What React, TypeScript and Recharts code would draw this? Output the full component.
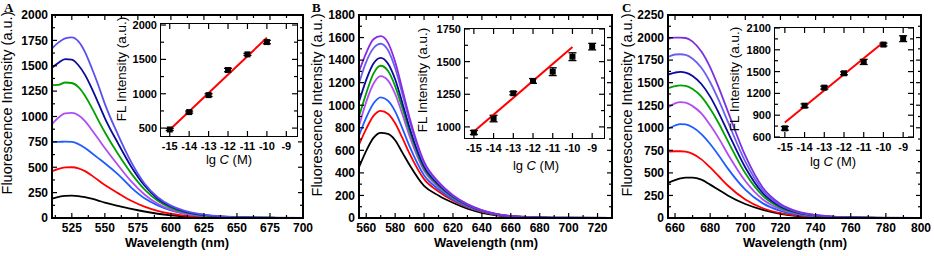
import React from "react";
import { LineChart, Line, XAxis, YAxis, ComposedChart, Scatter, ErrorBar } from "recharts";

const SANS = '"Liberation Sans", Arial, Helvetica, sans-serif';

// ---------- panel A: spectra, blank and lg C = -15 ... -10
const aWave = [510, 515, 520, 525, 530, 535, 540, 545, 550, 560, 570, 580, 590, 600, 610, 625, 640, 660, 680, 700];
const aBlank = [190, 208, 218, 220, 216, 205, 190, 172, 152, 120, 90, 64, 42, 26, 15, 7, 3, 1, 0, 0];
const aM15 = [462, 485, 498, 500, 490, 462, 420, 372, 325, 245, 170, 112, 70, 42, 24, 11, 5, 2, 1, 0];
const aM14 = [750, 750, 752, 750, 728, 690, 640, 590, 540, 430, 300, 195, 125, 76, 43, 19, 8, 3, 1, 0];
const aM13 = [925, 990, 1030, 1035, 1012, 955, 870, 780, 690, 520, 360, 232, 140, 82, 46, 20, 9, 3, 1, 0];
const aM12 = [1310, 1312, 1335, 1330, 1290, 1205, 1090, 965, 845, 630, 440, 282, 170, 100, 57, 26, 11, 4, 2, 1];
const aM11 = [1480, 1530, 1565, 1560, 1505, 1410, 1280, 1135, 985, 735, 505, 320, 190, 114, 66, 30, 13, 5, 2, 1];
const aM10 = [1670, 1730, 1770, 1780, 1740, 1635, 1480, 1310, 1125, 820, 550, 340, 205, 122, 72, 33, 15, 6, 3, 2];
const aColors = ["#000000", "#ff0000", "#1f5cff", "#b04cf2", "#00a000", "#0a0a9c", "#5a50f2"];

const aXMajor = [525, 550, 575, 600, 625, 650, 675, 700];
const aXMinor = [512.5, 537.5, 562.5, 587.5, 612.5, 637.5, 662.5, 687.5];
const aYMajor = [0, 250, 500, 750, 1000, 1250, 1500, 1750, 2000];
const aYMinor = [125, 375, 625, 875, 1125, 1375, 1625, 1875];

// inset A
const aLg = [-15, -14, -13, -12, -11, -10];
const aFL = [480, 733, 980, 1345, 1573, 1752];
const aErr = [15, 15, 20, 25, 15, 25];
const aFitY = [475, 1815];

// ---------- panel B: spectra, blank and lg C = -15 ... -9
const bWave = [555, 560, 565, 570, 575, 580, 585, 590, 600, 610, 620, 630, 640, 650, 660, 680, 700, 730];
const bBlank = [450, 595, 710, 755, 745, 690, 580, 470, 285, 200, 135, 82, 46, 24, 11, 3, 1, 0];
const bM15 = [650, 790, 905, 950, 925, 840, 710, 570, 345, 235, 155, 95, 54, 28, 13, 4, 1, 0];
const bM14 = [730, 890, 1015, 1070, 1040, 945, 795, 635, 380, 255, 165, 101, 58, 30, 14, 4, 1, 0];
const bM13 = [815, 1030, 1190, 1258, 1220, 1100, 920, 725, 420, 275, 178, 108, 62, 32, 15, 4, 1, 0];
const bM12 = [900, 1105, 1280, 1350, 1305, 1170, 975, 770, 440, 288, 185, 112, 64, 33, 16, 5, 1, 0];
const bM11 = [1030, 1225, 1370, 1420, 1370, 1230, 1020, 800, 458, 298, 191, 116, 66, 34, 16, 5, 2, 0];
const bM10 = [1195, 1385, 1505, 1545, 1490, 1330, 1100, 860, 485, 312, 198, 120, 68, 35, 17, 5, 2, 0];
const bM9 = [1298, 1465, 1585, 1612, 1555, 1385, 1140, 890, 500, 320, 203, 123, 70, 36, 17, 6, 2, 0];
const bColors = ["#000000", "#ff0000", "#1f5cff", "#b04cf2", "#00a000", "#0a0a9c", "#6a5ff2", "#8a2be2"];

const bXMajor = [560, 580, 600, 620, 640, 660, 680, 700, 720];
const bXMinor = [570, 590, 610, 630, 650, 670, 690, 710];
const bYMajor = [0, 200, 400, 600, 800, 1000, 1200, 1400, 1600, 1800];
const bYMinor = [100, 300, 500, 700, 900, 1100, 1300, 1500, 1700];

// inset B
const bLg = [-15, -14, -13, -12, -11, -10, -9];
const bFL = [957, 1064, 1258, 1352, 1423, 1538, 1615];
const bErr = [15, 25, 12, 18, 30, 30, 25];
const bFitY = [964, 1612];

// ---------- panel C: spectra, blank and lg C = -15 ... -9
const cWave = [656, 660, 663, 666, 670, 675, 680, 685, 690, 700, 710, 720, 730, 740, 750, 760, 780, 800];
const cBlank = [388, 420, 438, 448, 448, 425, 370, 310, 250, 155, 90, 47, 22, 11, 6, 3, 1, 0];
const cM15 = [735, 740, 740, 735, 710, 650, 560, 460, 360, 205, 108, 54, 26, 12, 6, 3, 1, 0];
const cM14 = [990, 1025, 1040, 1038, 1005, 930, 820, 690, 550, 315, 162, 80, 38, 18, 9, 4, 1, 0];
const cM13 = [1225, 1270, 1285, 1280, 1240, 1160, 1030, 880, 710, 410, 205, 98, 46, 22, 11, 5, 2, 1];
const cM12 = [1440, 1462, 1470, 1465, 1430, 1345, 1210, 1045, 855, 495, 245, 115, 53, 25, 12, 6, 2, 1];
const cM11 = [1590, 1612, 1620, 1612, 1575, 1485, 1345, 1160, 955, 560, 275, 128, 59, 28, 13, 6, 2, 1];
const cM10 = [1785, 1812, 1815, 1808, 1765, 1665, 1505, 1300, 1070, 625, 305, 142, 65, 31, 15, 7, 2, 1];
const cM9 = [1985, 2000, 2000, 1995, 1955, 1845, 1670, 1440, 1185, 690, 335, 156, 71, 34, 16, 8, 3, 1];
const cColors = ["#000000", "#ff0000", "#1f5cff", "#b04cf2", "#00a000", "#0a0a9c", "#6a5ff2", "#7d30e0"];

const cXMajor = [660, 680, 700, 720, 740, 760, 780, 800];
const cXMinor = [670, 690, 710, 730, 750, 770, 790];
const cYMajor = [0, 250, 500, 750, 1000, 1250, 1500, 1750, 2000, 2250];
const cYMinor = [125, 375, 625, 875, 1125, 1375, 1625, 1875, 2125];

// inset C
const cLg = [-15, -14, -13, -12, -11, -10, -9];
const cFL = [719, 1031, 1279, 1477, 1633, 1872, 1953];
const cErr = [25, 25, 20, 20, 35, 20, 40];
const cFitY = [800, 1905];

// shared inset x ticks / fit range
const lgTicks = [-15, -14, -13, -12, -11, -10, -9];
const fitX = [-15, -10];

function toRows(wave: number[], series: number[][]) {
  return wave.map((w, i) => {
    const r: any = { w };
    series.forEach((s, k) => (r["s" + k] = s[i]));
    return r;
  });
}

function toPts(lg: number[], fl: number[], err: number[]) {
  return lg.map((x, i) => ({ x, y: fl[i], e: err[i] }));
}

// tick renderers: ticks point inward (also mirrored on top / right), labels only on majors
const txt = (size: number) => ({ fontSize: size, fontWeight: 700, fontFamily: SANS, fill: "#000" });

const bottomTick = (major: number[], size: number, gap: number, top: number) => (p: any) => {
  const v = p.payload.value;
  const len = major.includes(v) ? 5 : 3;
  return (
    <g>
      <line x1={p.x} x2={p.x} y1={p.y} y2={p.y - len} stroke="#000" strokeWidth={1.2} />
      <line x1={p.x} x2={p.x} y1={top} y2={top + len} stroke="#000" strokeWidth={1.2} />
      {len === 5 && (
        <text x={p.x} y={p.y + gap} textAnchor="middle" {...txt(size)}>
          {v}
        </text>
      )}
    </g>
  );
};

const leftTick = (major: number[], size: number, right: number) => (p: any) => {
  const v = p.payload.value;
  const len = major.includes(v) ? 5 : 3;
  return (
    <g>
      <line x1={p.x} x2={p.x + len} y1={p.y} y2={p.y} stroke="#000" strokeWidth={1.2} />
      <line x1={right} x2={right - len} y1={p.y} y2={p.y} stroke="#000" strokeWidth={1.2} />
      {len === 5 && (
        <text x={p.x - 4} y={p.y + size * 0.36} textAnchor="end" {...txt(size)}>
          {v}
        </text>
      )}
    </g>
  );
};

// plot frames (main panels and insets), drawn on top of everything
const frames = [
  { l: 52, r: 303, t: 15, b: 218, w: 2 },
  { l: 359, r: 612, t: 15, b: 218, w: 2 },
  { l: 668, r: 921, t: 15, b: 218, w: 2 },
  { l: 161, r: 297, t: 24, b: 136, w: 1.7 },
  { l: 465, r: 604, t: 29, b: 138, w: 1.7 },
  { l: 775, r: 913, t: 28, b: 137, w: 1.7 },
];

function Frame({ l, r, t, b, w }: any) {
  return (
    <div
      style={{
        position: "absolute",
        zIndex: 5,
        left: l - w / 2,
        top: t - w / 2,
        width: r - l + w,
        height: b - t + w,
        border: `${w}px solid #000`,
        boxSizing: "border-box",
        pointerEvents: "none",
      }}
    />
  );
}

function Spectra(props: any) {
  const { left, width, plotLeft, plotRight, data, colors, xDomain, xMajor, xMinor, yDomain, yMajor, yMinor } = props;
  const xt = [...xMajor, ...xMinor];
  const yt = [...yMajor, ...yMinor];
  const common = { type: "number" as const, allowDataOverflow: true, interval: 0 as const, tickSize: 0, tickMargin: 0, tickLine: false, axisLine: false };
  return (
    <div style={{ position: "absolute", left, top: 0 }}>
      <LineChart width={width} height={256} data={data} margin={{ top: 15, right: left + width - plotRight, bottom: 0, left: 0 }}>
        <XAxis dataKey="w" domain={xDomain} ticks={xt} height={38} tick={bottomTick(xMajor, 12, 13.5, 15)} {...common} />
        <YAxis domain={yDomain} ticks={yt} width={plotLeft - left} tick={leftTick(yMajor, 12, plotRight - left)} {...common} />
        {colors.map((c: string, i: number) => (
          <Line key={i} dataKey={"s" + i} stroke={c} strokeWidth={1.8} dot={false} type="monotone" isAnimationActive={false} />
        ))}
      </LineChart>
    </div>
  );
}

function Inset(props: any) {
  const { left, width, height, fl, fr, ft, fb, pts, fit, xDomain, yDomain, yMajor, yMinor } = props;
  const yt = [...yMajor, ...yMinor];
  const common = { type: "number" as const, allowDataOverflow: true, interval: 0 as const, tickSize: 0, tickMargin: 0, tickLine: false, axisLine: false };
  return (
    <div style={{ position: "absolute", left, top: 0 }}>
      <ComposedChart width={width} height={height} margin={{ top: ft, right: left + width - fr, bottom: 0, left: 0 }}>
        <XAxis dataKey="x" domain={xDomain} ticks={lgTicks} height={height - fb} tick={bottomTick(lgTicks, 11, 13.5, ft)} {...common} />
        <YAxis domain={yDomain} ticks={yt} width={fl - left} tick={leftTick(yMajor, 11, fr - left)} {...common} />
        <Scatter
          data={pts}
          dataKey="y"
          fill="#000"
          isAnimationActive={false}
          shape={(p: any) => <rect x={p.cx - 3} y={p.cy - 3} width={6} height={6} fill="#000" />}
        >
          <ErrorBar dataKey="e" direction="y" width={4} stroke="#000" strokeWidth={1.3} />
        </Scatter>
        <Line data={fit} dataKey="y" stroke="#ff0000" strokeWidth={2} dot={false} type="linear" isAnimationActive={false} />
      </ComposedChart>
    </div>
  );
}

function Title({ x, y, text, rotate, size = 13, weight = 700 }: any) {
  return (
    <div
      style={{
        position: "absolute",
        left: x,
        top: y,
        transform: `translate(-50%, -50%)${rotate ? " rotate(-90deg)" : ""}`,
        whiteSpace: "nowrap",
        fontFamily: SANS,
        fontSize: size,
        fontWeight: weight,
        lineHeight: 1,
        color: "#000",
      }}
    >
      {text}
    </div>
  );
}

function Letter({ x, text }: any) {
  return (
    <div style={{ position: "absolute", left: x, top: 1, fontFamily: '"Liberation Serif", "Times New Roman", serif', fontWeight: 700, fontSize: 13, lineHeight: 1 }}>
      {text}
    </div>
  );
}

const lgLabel = (
  <span>
    lg <i>C</i> (M)
  </span>
);

export default function App() {
  const aRows = toRows(aWave, [aBlank, aM15, aM14, aM13, aM12, aM11, aM10]);
  const bRows = toRows(bWave, [bBlank, bM15, bM14, bM13, bM12, bM11, bM10, bM9]);
  const cRows = toRows(cWave, [cBlank, cM15, cM14, cM13, cM12, cM11, cM10, cM9]);
  const fitRows = (fy: number[]) => fitX.map((x, i) => ({ x, y: fy[i] }));

  return (
    <div style={{ position: "absolute", left: 0, top: 0, width: 934, height: 256, background: "#fff", overflow: "hidden" }}>
      <Spectra left={0} width={318} plotLeft={52} plotRight={303} data={aRows} colors={aColors} xDomain={[510, 700]} xMajor={aXMajor} xMinor={aXMinor} yDomain={[0, 2000]} yMajor={aYMajor} yMinor={aYMinor} />
      <Spectra left={310} width={312} plotLeft={359} plotRight={612} data={bRows} colors={bColors} xDomain={[555, 730]} xMajor={bXMajor} xMinor={bXMinor} yDomain={[0, 1800]} yMajor={bYMajor} yMinor={bYMinor} />
      <Spectra left={620} width={314} plotLeft={668} plotRight={921} data={cRows} colors={cColors} xDomain={[656, 800]} xMajor={cXMajor} xMinor={cXMinor} yDomain={[0, 2250]} yMajor={cYMajor} yMinor={cYMinor} />

      <Inset left={100} width={205} height={175} fl={161} fr={297} ft={24} fb={136} pts={toPts(aLg, aFL, aErr)} fit={fitRows(aFitY)} xDomain={[-15.45, -8.45]} yDomain={[385, 2015]} yMajor={[500, 1000, 1500, 2000]} yMinor={[750, 1250, 1750]} />
      <Inset left={405} width={207} height={180} fl={465} fr={604} ft={29} fb={138} pts={toPts(bLg, bFL, bErr)} fit={fitRows(bFitY)} xDomain={[-15.45, -8.4]} yDomain={[915, 1750]} yMajor={[1000, 1250, 1500, 1750]} yMinor={[1125, 1375, 1625]} />
      <Inset left={715} width={206} height={180} fl={775} fr={913} ft={28} fb={137} pts={toPts(cLg, cFL, cErr)} fit={fitRows(cFitY)} xDomain={[-15.5, -8.5]} yDomain={[600, 2100]} yMajor={[600, 900, 1200, 1500, 1800, 2100]} yMinor={[750, 1050, 1350, 1650, 1950]} />

      <Letter x={4} text="A" />
      <Letter x={312} text="B" />
      <Letter x={622} text="C" />

      <Title x={7} y={103} text="Fluorescence Intensity (a.u.)" rotate size={14.5} weight={400} />
      <Title x={317} y={105} text="Fluorescence Intensity (a.u.)" rotate size={14.5} weight={400} />
      <Title x={627} y={105} text="Fluorescence Intensity (a.u.)" rotate size={14.5} weight={400} />

      <Title x={177} y={241.5} text="Wavelength (nm)" />
      <Title x={486} y={241.5} text="Wavelength (nm)" />
      <Title x={795} y={241.5} text="Wavelength (nm)" />

      <Title x={122} y={69} text="FL Intensity (a.u.)" rotate size={13.5} weight={400} />
      <Title x={423} y={80} text="FL Intensity (a.u.)" rotate size={13.5} weight={400} />
      <Title x={735} y={79} text="FL Intensity (a.u.)" rotate size={13.5} weight={400} />

      <Title x={229} y={159} text={lgLabel} size={13} weight={400} />
      <Title x={536} y={165} text={lgLabel} size={13} weight={400} />
      <Title x={833} y={161} text={lgLabel} size={13} weight={400} />

      {frames.map((f, i) => (
        <Frame key={i} {...f} />
      ))}
    </div>
  );
}
